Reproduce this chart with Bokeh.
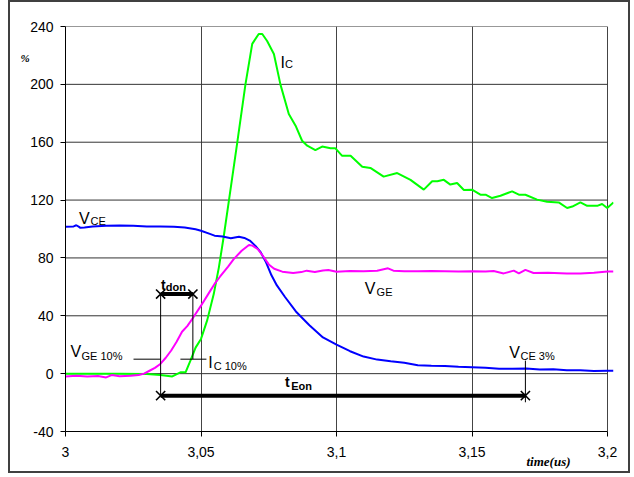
from bokeh.plotting import figure
from bokeh.models import Label, FixedTicker, Range1d, Title
from bokeh.embed import file_html
from bokeh.resources import INLINE

# ---------------- data ----------------
x_ticks = [3.0, 3.05, 3.1, 3.15, 3.2]
x_tick_labels = ["3", "3,05", "3,1", "3,15", "3,2"]
y_ticks = [-40, 0, 40, 80, 120, 160, 200, 240]
y_tick_labels = ["-40", "0", "40", "80", "120", "160", "200", "240"]

vce_t = [3.000, 3.003, 3.004, 3.005, 3.0055, 3.007, 3.010, 3.015, 3.020, 3.025,
         3.030, 3.035, 3.040, 3.044, 3.048, 3.050, 3.053, 3.055, 3.058, 3.061,
         3.064, 3.066, 3.068, 3.070, 3.072, 3.074, 3.076, 3.078, 3.081, 3.085,
         3.090, 3.095, 3.100, 3.105, 3.110, 3.115, 3.120, 3.125, 3.130, 3.135,
         3.140, 3.145, 3.150, 3.155, 3.160, 3.165, 3.170, 3.175, 3.180, 3.185,
         3.190, 3.195, 3.200, 3.2022]
vce = [101.5, 101.8, 102.6, 101.5, 100.8, 101.0, 101.8, 102.2, 102.5, 102.3,
       101.8, 101.8, 101.6, 101.0, 99.8, 98.8, 96.8, 95.4, 94.8, 93.6,
       94.6, 93.8, 92.0, 88.5, 84.0, 77.0, 68.0, 61.0, 53.0, 43.0,
       33.5, 25.0, 20.0, 15.5, 11.8, 9.7, 8.5, 7.5, 5.8, 5.5,
       5.3, 4.8, 4.4, 4.0, 3.4, 3.3, 3.6, 2.8, 3.0, 2.4,
       2.3, 1.9, 2.0, 2.0]

vge_t = [3.000, 3.004, 3.008, 3.012, 3.015, 3.017, 3.020, 3.024, 3.027, 3.029,
         3.031, 3.033, 3.035, 3.037, 3.039, 3.041, 3.043, 3.045, 3.047, 3.050,
         3.053, 3.055, 3.057, 3.060, 3.062, 3.065, 3.0677, 3.069, 3.071, 3.073,
         3.075, 3.077, 3.080, 3.084, 3.087, 3.089, 3.092, 3.095, 3.097, 3.100,
         3.105, 3.110, 3.115, 3.119, 3.121, 3.125, 3.130, 3.135, 3.140, 3.145,
         3.150, 3.155, 3.158, 3.1617, 3.1654, 3.1673, 3.1697, 3.1727, 3.178, 3.185,
         3.190, 3.195, 3.200, 3.2022]
vge = [-2.0, -1.5, -2.0, -1.7, -2.6, -1.0, -1.8, -1.5, -1.0, 0.0,
       2.0, 4.0, 6.7, 11.0, 16.0, 22.0, 29.0, 33.0, 38.5, 47.0,
       56.0, 62.0, 67.0, 74.0, 79.0, 85.0, 89.0, 88.5, 86.0, 81.0,
       75.5, 72.5, 70.5, 69.6, 70.2, 71.2, 70.2, 71.3, 71.6, 70.5,
       71.0, 70.8, 71.2, 72.8, 71.2, 70.8, 70.8, 71.0, 70.8, 70.6,
       70.8, 70.6, 71.0, 69.3, 71.2, 69.3, 71.7, 69.6, 69.8, 69.3,
       69.3, 69.8, 70.7, 70.7]

ic_t = [3.000, 3.010, 3.020, 3.030, 3.035, 3.0394, 3.0424, 3.0443, 3.0461, 3.048,
        3.050, 3.0523, 3.0547, 3.0566, 3.0584, 3.0603, 3.0634, 3.0664, 3.0689, 3.0713,
        3.0726, 3.0744, 3.0769, 3.0793, 3.0824, 3.0849, 3.0873, 3.0892, 3.0922, 3.0947,
        3.0978, 3.0996, 3.102, 3.1052, 3.1095, 3.1125, 3.1174, 3.1224, 3.1273, 3.1322,
        3.1353, 3.1372, 3.1396, 3.142, 3.1445, 3.147, 3.150, 3.1531, 3.155, 3.1574,
        3.1605, 3.1648, 3.1673, 3.1697, 3.174, 3.1777, 3.182, 3.1851, 3.187, 3.190,
        3.1925, 3.1962, 3.198, 3.1999, 3.2022]
ic = [0.0, 0.0, 0.0, -0.3, -0.9, -1.9, 0.9, 0.9, 9.0, 18.0,
      24.0, 37.0, 55.0, 73.5, 95.0, 119.6, 160.0, 200.0, 228.0, 234.8,
      234.8, 230.0, 221.0, 200.0, 179.5, 171.4, 161.0, 157.6, 154.6, 157.0,
      155.8, 155.8, 150.7, 150.7, 143.0, 142.2, 136.2, 138.7, 134.0, 127.2,
      133.0, 133.0, 134.0, 130.7, 131.8, 127.0, 127.2, 123.7, 123.7, 121.4,
      123.0, 126.0, 123.7, 123.7, 120.3, 118.9, 118.4, 114.5, 115.5, 118.4,
      116.0, 116.0, 117.3, 114.5, 118.4]

# switching-time markers (time in us, level in %)
t_don_start = 3.0351
t_don_end = 3.047
t_eon_end = 3.1697
level_10 = 10
t_don_level = 55
t_eon_level = -15.2
vge10_line = [3.0251, 3.0351]
ic10_line = [3.0424, 3.0520]
vce3_span = [9.0, -19.8]

# ---------------- figure ----------------
FONT = "Liberation Sans"
p = figure(width=622, height=473, output_backend="svg", toolbar_location=None,
           x_range=Range1d(3.0, 3.20221), y_range=Range1d(-40, 240),
           min_border_left=55, min_border_right=19, min_border_top=24, min_border_bottom=44)
p.styles = {"border": "2px solid #404040", "margin-left": "8px"}
p.outline_line_color = None
p.background_fill_color = "white"
p.border_fill_color = "white"

p.xaxis.ticker = FixedTicker(ticks=x_ticks)
p.yaxis.ticker = FixedTicker(ticks=y_ticks)
p.xaxis.major_label_overrides = dict(zip(x_ticks, x_tick_labels))
p.yaxis.major_label_overrides = {float(k): v for k, v in zip(y_ticks, y_tick_labels)}
p.xaxis.bounds = (x_ticks[0], x_ticks[-1])
for ax in (p.xaxis, p.yaxis):
    ax.minor_tick_line_color = None
    ax.major_tick_in = 0
    ax.major_tick_out = 5
    ax.axis_line_color = "black"
    ax.major_tick_line_color = "black"
    ax.major_label_text_font = FONT
    ax.major_label_text_font_size = "14px"
    ax.major_label_text_color = "black"
p.xaxis.major_label_standoff = 10
p.yaxis.major_label_standoff = 7

p.ygrid.visible = False
p.xgrid.ticker = FixedTicker(ticks=x_ticks)
p.xgrid.grid_line_color = "#444444"
p.xgrid.grid_line_width = 1
p.segment(x0=x_ticks[0], x1=x_ticks[-1], y0=y_ticks, y1=y_ticks,
          line_color="#333333", line_width=1)

# series
p.line(ic_t, ic, line_color="#00ff00", line_width=2)
p.line(vce_t, vce, line_color="#0000ff", line_width=2)
p.line(vge_t, vge, line_color="#ff00ff", line_width=2)

# annotation lines
p.segment(x0=[t_don_start, t_don_end, t_eon_end, vge10_line[0], ic10_line[0]],
          x1=[t_don_start, t_don_end, t_eon_end, vge10_line[1], ic10_line[1]],
          y0=[t_don_level, t_don_level, vce3_span[0], level_10, level_10],
          y1=[t_eon_level, level_10, vce3_span[1], level_10, level_10],
          line_color="black", line_width=1)
p.segment(x0=[t_don_start, t_don_start], x1=[t_don_end, t_eon_end],
          y0=[t_don_level, t_eon_level], y1=[t_don_level, t_eon_level],
          line_color="black", line_width=4)
p.scatter([t_don_start, t_don_end, t_don_start, t_eon_end],
          [t_don_level, t_don_level, t_eon_level, t_eon_level],
          marker="x", size=13, line_color="black", line_width=1.6)

def lab(x, y, text, size, bold=False):
    p.add_layout(Label(x=x, y=y, text=text,
                       text_font=FONT, text_font_size=size,
                       text_font_style="bold" if bold else "normal",
                       text_color="black", text_baseline="alphabetic", text_align="left"))

# series labels with subscripts
lab(3.0050, 107.4, "V", "16px"); lab(3.0092, 105.3, "CE", "11px")
lab(3.0793, 215.2, "I", "16px"); lab(3.0810, 214.1, "C", "11px")
lab(3.1104, 58.6, "V", "16px"); lab(3.1148, 56.2, "GE", "11px")
lab(3.0018, 15.2, "V", "16px"); lab(3.0059, 12.4, "GE 10%", "11px")
lab(3.0527, 7.8, "I", "16px"); lab(3.0547, 5.0, "C 10%", "11px")
lab(3.1637, 14.7, "V", "16px"); lab(3.1679, 12.4, "CE 3%", "11px")
lab(3.0352, 61.3, "t", "14px", bold=True); lab(3.0370, 60.1, "don", "11px", bold=True)
lab(3.0810, -6.0, "t", "14px", bold=True); lab(3.0833, -8.3, "Eon", "11px", bold=True)

# axis titles, placed in the side panels
p.add_layout(Title(text="%", align="left", offset=-45, standoff=-74,
                   text_font="Liberation Serif", text_font_size="11px",
                   text_font_style="bold italic", text_color="black"), "above")
p.add_layout(Title(text="time(us)", align="left", offset=461, standoff=-19,
                   text_font="Liberation Serif", text_font_size="13px",
                   text_font_style="bold italic", text_color="black"), "below")

open("out.html", "w").write(file_html(p, INLINE))
